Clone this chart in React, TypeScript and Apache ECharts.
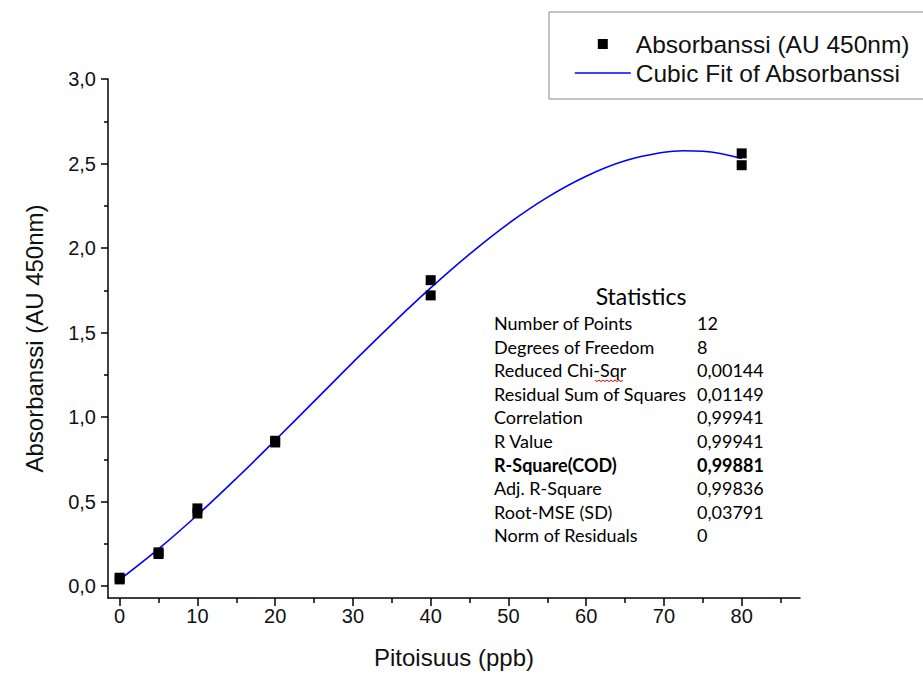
import React, { useEffect, useRef } from "react";
import * as echarts from "echarts";

// ---- data ----
const concX = [0, 0, 5, 5, 10, 10, 20, 20, 40, 40, 80, 80];
const absorbance = [0.04, 0.05, 0.2, 0.19, 0.46, 0.43, 0.86, 0.85, 1.81, 1.72, 2.56, 2.49];

// cubic fit curve, values every 5 ppb
const fitX = [0, 5, 10, 15, 20, 25, 30, 35, 40, 45, 50, 55, 60, 65, 70, 72.5, 75, 80];
const fitY = [0.038, 0.22, 0.421, 0.637, 0.863, 1.093, 1.324, 1.549, 1.764, 1.964, 2.145, 2.3, 2.425, 2.516, 2.567, 2.576, 2.573, 2.53];

const xMajorTicks = [0, 10, 20, 30, 40, 50, 60, 70, 80];
const xMinorTicks = [5, 15, 25, 35, 45, 55, 65, 75, 85];
const yMajorTicks = [0, 0.5, 1.0, 1.5, 2.0, 2.5, 3.0];
const yMinorTicks = [0.25, 0.75, 1.25, 1.75, 2.25, 2.75];

const statLabels = [
  "Number of Points",
  "Degrees of Freedom",
  "Reduced Chi-Sqr",
  "Residual Sum of Squares",
  "Correlation",
  "R Value",
  "R-Square(COD)",
  "Adj. R-Square",
  "Root-MSE (SD)",
  "Norm of Residuals",
];
const statValues = ["12", "8", "0,00144", "0,01149", "0,99941", "0,99941", "0,99881", "0,99836", "0,03791", "0"];
const boldStat = "R-Square(COD)";

const seriesNames = ["Absorbanssi (AU 450nm)", "Cubic Fit of Absorbanssi"];

const AXIS_FONT = "Liberation Sans";
const STAT_FONT = "Lato";

export default function App() {
  const ref = useRef<HTMLDivElement>(null);

  useEffect(() => {
    if (!ref.current) return;
    const chart = echarts.init(ref.current, undefined, { renderer: "svg" });

    const yFmt = (v: number) => v.toFixed(1).replace(".", ",");

    const statGraphics: any[] = [
      {
        type: "text",
        x: 641,
        y: 296,
        style: {
          text: "Statistics",
          fontFamily: STAT_FONT,
          fontSize: 23,
          fill: "#000",
          textAlign: "center",
          textVerticalAlign: "middle",
        },
      },
    ];
    statLabels.forEach((lab, i) => {
      const y = 323 + i * 23.6;
      const bold = lab === boldStat;
      statGraphics.push({
        type: "text",
        x: 494,
        y,
        style: {
          text: lab,
          fontFamily: STAT_FONT,
          fontSize: 18,
          fontWeight: bold ? "bold" : "normal",
          fill: "#000",
          textAlign: "left",
          textVerticalAlign: "middle",
        },
      });
      statGraphics.push({
        type: "text",
        x: 697,
        y,
        style: {
          text: statValues[i],
          fontFamily: STAT_FONT,
          fontSize: 18,
          fontWeight: bold ? "bold" : "normal",
          fill: "#000",
          textAlign: "left",
          textVerticalAlign: "middle",
        },
      });
    });
    // spell-check squiggle under "Sqr"
    const squiggle: number[][] = [];
    for (let k = 0; k <= 14; k++) squiggle.push([595 + k * 2, 380 + (k % 2 === 0 ? 0 : 1.6)]);
    statGraphics.push({
      type: "polyline",
      shape: { points: squiggle },
      style: { stroke: "#e00000", lineWidth: 1, fill: null },
    });

    const common = { min: -1.5, max: 87.5, type: "value" as const };
    const yCommon = { min: -0.07, max: 3.0, type: "value" as const };

    chart.setOption({
      animation: false,
      backgroundColor: "#fff",
      textStyle: { fontFamily: AXIS_FONT },
      grid: { left: 108, right: 123, top: 79, bottom: 76, containLabel: false },
      legend: {
        orient: "vertical",
        left: 549,
        top: 12,
        align: "left",
        padding: [19, 60, 13, 25],
        itemGap: 3,
        itemWidth: 56,
        itemHeight: 12,
        borderColor: "#888",
        borderWidth: 1,
        textStyle: { fontFamily: AXIS_FONT, fontSize: 24.5, color: "#111", lineHeight: 26 },
        data: [
          {
            name: seriesNames[0],
            icon: "path://M0,0M56,12M23,1h10v10h-10z",
            itemStyle: { color: "#000", opacity: 1 },
          },
          {
            name: seriesNames[1],
            itemStyle: { color: "rgba(0,0,0,0)", opacity: 0 },
            lineStyle: { color: "#0000ff", width: 1.6 },
          },
        ],
      },
      xAxis: [
        {
          ...common,
          position: "bottom",
          name: "Pitoisuus (ppb)",
          nameLocation: "middle",
          nameGap: 47,
          nameTextStyle: { fontFamily: AXIS_FONT, fontSize: 24, color: "#111" },
          axisLine: { show: true, onZero: false, lineStyle: { color: "#000", width: 1.5 } },
          axisTick: { show: true, length: 8, customValues: xMajorTicks, lineStyle: { color: "#000", width: 1.5 } },
          axisLabel: {
            customValues: xMajorTicks,
            margin: 8,
            fontFamily: AXIS_FONT,
            fontSize: 20,
            color: "#111",
          },
          splitLine: { show: false },
        },
        {
          ...common,
          position: "bottom",
          axisLine: { show: false, onZero: false },
          axisTick: { show: true, length: 5, customValues: xMinorTicks, lineStyle: { color: "#000", width: 1.5 } },
          axisLabel: { show: false },
          splitLine: { show: false },
        },
      ],
      yAxis: [
        {
          ...yCommon,
          position: "left",
          name: "Absorbanssi (AU 450nm)",
          nameLocation: "middle",
          nameGap: 62,
          nameTextStyle: { fontFamily: AXIS_FONT, fontSize: 24, color: "#111" },
          axisLine: { show: true, onZero: false, lineStyle: { color: "#000", width: 1.5 } },
          axisTick: { show: true, length: 7, customValues: yMajorTicks, lineStyle: { color: "#000", width: 1.5 } },
          axisLabel: {
            customValues: yMajorTicks,
            formatter: yFmt,
            margin: 12,
            fontFamily: AXIS_FONT,
            fontSize: 20,
            color: "#111",
          },
          splitLine: { show: false },
        },
        {
          ...yCommon,
          position: "left",
          axisLine: { show: false, onZero: false },
          axisTick: { show: true, length: 4, customValues: yMinorTicks, lineStyle: { color: "#000", width: 1.5 } },
          axisLabel: { show: false },
          splitLine: { show: false },
        },
      ],
      series: [
        {
          name: seriesNames[1],
          type: "line",
          xAxisIndex: 0,
          yAxisIndex: 0,
          data: fitX.map((x, i) => [x, fitY[i]]),
          smooth: 0.4,
          showSymbol: false,
          symbol: "none",
          lineStyle: { color: "#0000ff", width: 1.6 },
          itemStyle: { color: "rgba(0,0,0,0)" },
          z: 2,
        },
        {
          name: seriesNames[0],
          type: "scatter",
          xAxisIndex: 0,
          yAxisIndex: 0,
          data: concX.map((x, i) => [x, absorbance[i]]),
          symbol: "rect",
          symbolSize: 10,
          itemStyle: { color: "#000", opacity: 1 },
          z: 3,
        },
      ],
      graphic: statGraphics,
    });

    return () => chart.dispose();
  }, []);

  return (
    <div
      ref={ref}
      style={{ position: "fixed", left: 0, top: 0, width: 923, height: 674 }}
    />
  );
}
